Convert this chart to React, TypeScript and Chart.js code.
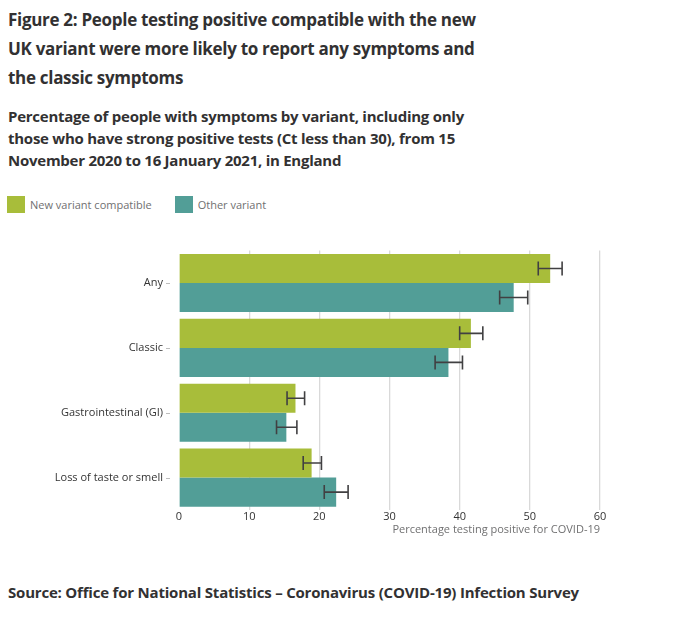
import React, { useEffect, useRef } from "react";
import { Chart, registerables } from "chart.js";

Chart.register(...registerables);

// Symptom categories shown on the vertical axis
const categories = ["Any", "Classic", "Gastrointestinal (GI)", "Loss of taste or smell"];

// Percentage testing positive reporting each symptom
const newVariant = [52.9, 41.6, 16.6, 18.9];
const otherVariant = [47.7, 38.4, 15.3, 22.4];

// 95% confidence intervals
const newVariantLow = [51.2, 40.0, 15.4, 17.7];
const newVariantHigh = [54.6, 43.3, 17.9, 20.3];
const otherVariantLow = [45.7, 36.5, 13.9, 20.7];
const otherVariantHigh = [49.7, 40.4, 16.8, 24.1];

const xTicks = [0, 10, 20, 30, 40, 50, 60];

const seriesNames = ["New variant compatible", "Other variant"];
const GREEN = "#a8bd3a";
const TEAL = "#529e97";
const FONT = "'Open Sans', sans-serif";

const intervalLow = [newVariantLow, otherVariantLow];
const intervalHigh = [newVariantHigh, otherVariantHigh];

const errorBarsPlugin = {
  id: "errorBars",
  afterDatasetsDraw(chart: any) {
    const { ctx } = chart;
    const xs = chart.scales.x;
    ctx.save();
    ctx.strokeStyle = "#414042";
    ctx.lineWidth = 1.6;
    chart.data.datasets.forEach((_: any, di: number) => {
      const meta = chart.getDatasetMeta(di);
      meta.data.forEach((bar: any, i: number) => {
        const x1 = xs.getPixelForValue(intervalLow[di][i]);
        const x2 = xs.getPixelForValue(intervalHigh[di][i]);
        const y = bar.y;
        const h = 7;
        ctx.beginPath();
        ctx.moveTo(x1, y);
        ctx.lineTo(x2, y);
        ctx.moveTo(x1, y - h);
        ctx.lineTo(x1, y + h);
        ctx.moveTo(x2, y - h);
        ctx.lineTo(x2, y + h);
        ctx.stroke();
      });
    });
    ctx.restore();
  },
};

const axisDecorPlugin = {
  id: "axisDecor",
  afterDraw(chart: any) {
    const { ctx, chartArea } = chart;
    const ys = chart.scales.y;
    ctx.save();
    // short tick dashes next to the category labels
    ctx.strokeStyle = "#bdbdbd";
    ctx.lineWidth = 1;
    categories.forEach((_, i) => {
      const y = Math.round(ys.getPixelForValue(i)) + 0.5;
      ctx.beginPath();
      ctx.moveTo(chartArea.left - 13, y);
      ctx.lineTo(chartArea.left - 9, y);
      ctx.stroke();
    });
    // x axis title, right aligned to the plot
    ctx.fillStyle = "#707071";
    ctx.font = `11px ${FONT}`;
    ctx.textAlign = "right";
    ctx.textBaseline = "middle";
    ctx.fillText("Percentage testing positive for COVID-19", chartArea.right, chartArea.bottom + 20);
    ctx.restore();
  },
};

function BarChart() {
  const canvasRef = useRef<HTMLCanvasElement | null>(null);

  useEffect(() => {
    if (!canvasRef.current) return;
    const chart = new Chart(canvasRef.current, {
      type: "bar",
      data: {
        labels: categories,
        datasets: [
          {
            label: seriesNames[0],
            data: newVariant,
            backgroundColor: GREEN,
            borderWidth: 0,
            barPercentage: 1,
            categoryPercentage: 0.897,
          },
          {
            label: seriesNames[1],
            data: otherVariant,
            backgroundColor: TEAL,
            borderWidth: 0,
            barPercentage: 1,
            categoryPercentage: 0.897,
          },
        ],
      },
      options: {
        indexAxis: "y",
        animation: false,
        responsive: false,
        maintainAspectRatio: false,
        layout: { padding: { top: 9, right: 100, bottom: 0, left: 0 } },
        plugins: {
          legend: { display: false },
          tooltip: { enabled: false },
        },
        scales: {
          x: {
            min: 0,
            max: 60,
            afterBuildTicks(scale: any) {
              scale.ticks = xTicks.map((v) => ({ value: v }));
            },
            afterFit(scale: any) {
              scale.height = 40;
            },
            grid: {
              color: (c: any) => (c.tick && c.tick.value === 0 ? "rgba(0,0,0,0)" : "#d9d9d9"),
              lineWidth: 1.3,
              drawTicks: false,
            },
            border: { display: false },
            ticks: {
              padding: 0,
              color: "#333333",
              font: { family: FONT, size: 11 },
            },
          },
          y: {
            afterFit(scale: any) {
              scale.width = 171;
            },
            grid: { display: false, drawTicks: false },
            border: { display: false },
            ticks: {
              padding: 16,
              color: "#333333",
              font: { family: FONT, size: 11 },
            },
          },
        },
      },
      plugins: [errorBarsPlugin, axisDecorPlugin],
    });
    return () => chart.destroy();
  }, []);

  return (
    <canvas
      ref={canvasRef}
      width={692}
      height={322}
      style={{ position: "absolute", left: 8, top: 228, width: 692, height: 322 }}
    />
  );
}

export default function App() {
  const swatch = (color: string): React.CSSProperties => ({
    display: "inline-block",
    width: 18,
    height: 17,
    background: color,
    verticalAlign: "middle",
    marginRight: 5,
  });
  return (
    <div
      style={{
        position: "fixed",
        left: 0,
        top: 0,
        width: 700,
        height: 617,
        background: "#ffffff",
        fontFamily: FONT,
        overflow: "hidden",
      }}
    >
      <div
        style={{
          position: "absolute",
          left: 8,
          top: 4.5,
          fontSize: 17,
          letterSpacing: -0.3,
          lineHeight: "29px",
          fontWeight: 700,
          color: "#323132",
          whiteSpace: "nowrap",
        }}
      >
        Figure 2: People testing positive compatible with the new
        <br />
        UK variant were more likely to report any symptoms and
        <br />
        the classic symptoms
      </div>
      <div
        style={{
          position: "absolute",
          left: 8,
          top: 106,
          fontSize: 15,
          letterSpacing: -0.25,
          lineHeight: "21.8px",
          fontWeight: 700,
          color: "#323132",
          whiteSpace: "nowrap",
        }}
      >
        Percentage of people with symptoms by variant, including only
        <br />
        those who have strong positive tests (Ct less than 30), from 15
        <br />
        November 2020 to 16 January 2021, in England
      </div>
      <div
        style={{
          position: "absolute",
          left: 7,
          top: 196,
          fontSize: 11,
          lineHeight: "17px",
          color: "#707071",
          whiteSpace: "nowrap",
          display: "flex",
          alignItems: "center",
        }}
      >
        <span style={swatch(GREEN)} />
        <span style={{ marginRight: 23 }}>{seriesNames[0]}</span>
        <span style={swatch(TEAL)} />
        <span>{seriesNames[1]}</span>
      </div>
      <BarChart />
      <div
        style={{
          position: "absolute",
          left: 8,
          top: 581,
          fontSize: 15,
          letterSpacing: -0.2,
          lineHeight: "22px",
          fontWeight: 700,
          color: "#323132",
          whiteSpace: "nowrap",
        }}
      >
        Source: Office for National Statistics – Coronavirus (COVID-19) Infection Survey
      </div>
    </div>
  );
}
